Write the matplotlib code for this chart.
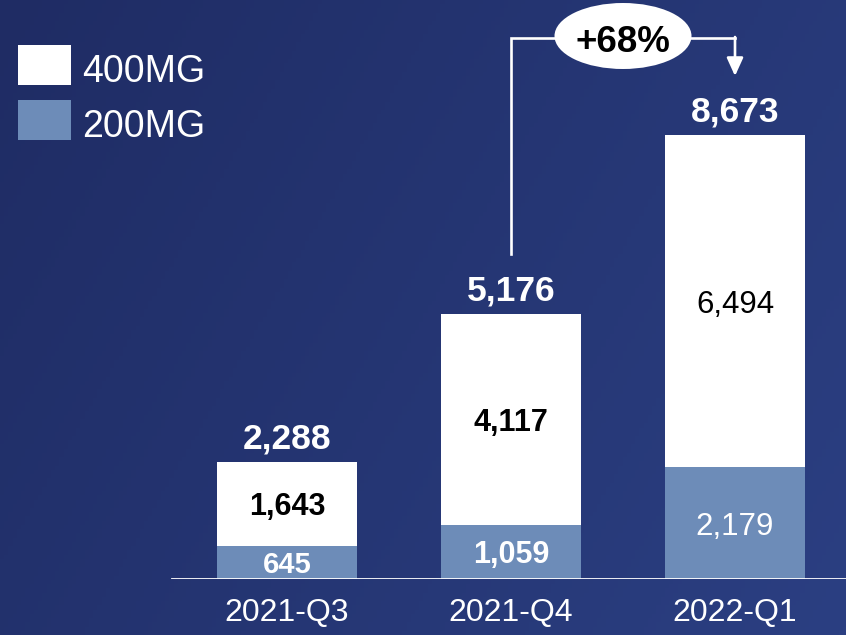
import numpy as np
import matplotlib
matplotlib.use("Agg")
import matplotlib.pyplot as plt
from matplotlib.patches import Ellipse, Rectangle
from matplotlib.colors import LinearSegmentedColormap

# data
quarters = ["2021-Q3", "2021-Q4", "2022-Q1"]
mg200 = [645, 1059, 2179]
mg400 = [1643, 4117, 6494]
series_names = ["400MG", "200MG"]
growth_label = "+68%"

# styling
WHITE = "#ffffff"
BLUE = "#6d8cb8"
BG_LEFT = "#1f2c64"
BG_RIGHT = "#2b3f82"
inner_bold = [True, True, False]   # last quarter uses plain labels

plt.rcParams["font.family"] = ["Liberation Sans", "DejaVu Sans"]

W, H = 846, 635
fig = plt.figure(figsize=(W / 100, H / 100), dpi=100)

# gradient background
bg = fig.add_axes([0, 0, 1, 1], zorder=0)
gx, gy = np.meshgrid(np.linspace(0, 1, 200), np.linspace(0, 1, 150))
grad = 0.7 * gx + 0.3 * gy
cmap = LinearSegmentedColormap.from_list("bg", [BG_LEFT, BG_RIGHT])
bg.imshow(grad, cmap=cmap, aspect="auto", extent=[0, 1, 0, 1], origin="upper")
bg.axis("off")

# main axes: baseline 56px above the bottom, bar pitch 224px
base_px = 56
ax = fig.add_axes([0, base_px / H, 1, (H - base_px) / H], zorder=1)
ax.set_facecolor("none")
pitch = 224
x0 = 287
ax.set_xlim(-x0 / pitch, (W - x0) / pitch)
ytop = 11310
ax.set_ylim(0, ytop)
ppu = (H - base_px) / ytop   # pixels per unit

def px_y(py):
    """pixel row from top -> data y"""
    return (H - base_px - py) / ppu

x = np.arange(len(quarters))
totals = [a + b for a, b in zip(mg200, mg400)]
bw = 140 / pitch

ax.bar(x, mg200, width=bw, color=BLUE, zorder=2)
ax.bar(x, mg400, bottom=mg200, width=bw, color=WHITE, zorder=2)

for i in range(len(quarters)):
    weight = "bold" if inner_bold[i] else "normal"
    ax.text(x[i], mg200[i] + mg400[i] / 2, f"{mg400[i]:,}", ha="center", va="center_baseline",
            fontsize=22 if inner_bold[i] else 22.5, fontweight=weight, color="black", zorder=3)
    small = mg200[i] < 800
    ax.text(x[i], mg200[i] / 2, f"{mg200[i]:,}", ha="center", va="center_baseline",
            fontsize=21 if small else (22 if inner_bold[i] else 22.5),
            fontweight=weight, color=WHITE, zorder=3)
    ax.annotate(f"{totals[i]:,}", (x[i], totals[i]), xytext=(0, 9.4), textcoords="offset points",
                ha="center", va="baseline", fontsize=25.5, fontweight="bold", color=WHITE)

# axis line and ticks
ax.axhline(0, xmin=172 / W, xmax=1, color=WHITE, lw=2, zorder=4)
for s in ax.spines.values():
    s.set_visible(False)
ax.set_yticks([])
ax.set_xticks(x, quarters)
ax.tick_params(axis="x", length=0, pad=14, labelsize=23, labelcolor=WHITE)

# growth connector
y_conn = px_y(38)
y_start = totals[1] + 60 / ppu
y_tip = totals[2] + 59 / ppu
ax.plot([x[1], x[1], x[2]], [y_start, y_conn, y_conn], color=WHITE, lw=1.9,
        solid_joinstyle="miter", zorder=4)
ax.annotate("", xy=(x[2], y_tip), xytext=(x[2], y_conn + 1 / ppu),
            arrowprops=dict(arrowstyle="-|>,head_length=1.1,head_width=0.5",
                            color=WHITE, lw=1.9, shrinkA=0, shrinkB=0), zorder=4)
ax.add_patch(Ellipse(((x[1] + x[2]) / 2, px_y(36)), width=137 / pitch, height=66 / ppu,
                     facecolor=WHITE, edgecolor="none", zorder=5))
ax.text((x[1] + x[2]) / 2, px_y(52), growth_label, ha="center", va="baseline",
        fontsize=26.5, fontweight="bold", color="black", zorder=6)

# legend
colors = [WHITE, BLUE]
for k, (name, c) in enumerate(zip(series_names, colors)):
    top = 45 + 55 * k
    fig.patches.append(Rectangle((18 / W, 1 - (top + 40) / H), 53 / W, 40 / H,
                                 transform=fig.transFigure, facecolor=c, edgecolor="none", zorder=3))
    fig.text(82 / W, 1 - (top + 37) / H, name, ha="left", va="baseline",
             fontsize=27, color=WHITE, zorder=3)

fig.savefig("out.png", dpi=100)
